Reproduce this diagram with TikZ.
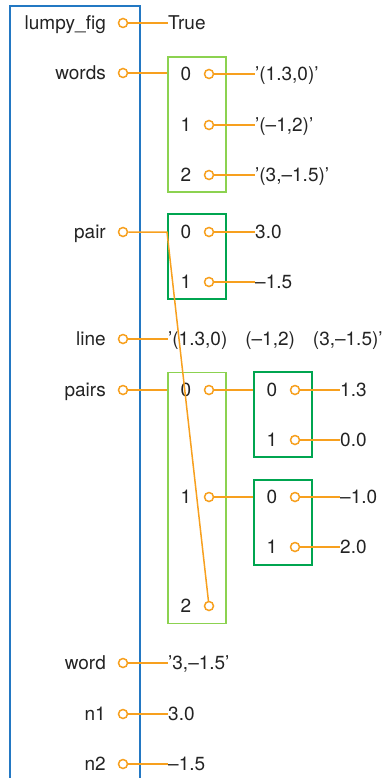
\documentclass[tikz,border=0pt]{standalone}
\usepackage{fontspec}
\setmainfont{TeX Gyre Heros}
\definecolor{refblue}{RGB}{35,120,195}
\definecolor{reforange}{RGB}{247,160,30}
\definecolor{listgreen}{RGB}{140,210,80}
\definecolor{tuplegreen}{RGB}{0,165,80}
\definecolor{reftext}{RGB}{35,35,35}

\begin{document}
\begin{tikzpicture}[
        x=1pt, y=-1pt,
        txt/.style={inner sep=0pt, text height=13.5pt, text depth=0pt, text=reftext, font=\fontsize{19}{21}\selectfont},
        varname/.style={txt, anchor=east},
        val/.style={txt, anchor=west},
        idx/.style={txt, anchor=center},
        ptr/.style={circle, draw=reforange, fill=white, line width=1.5pt, minimum size=9pt, inner sep=0pt},
        ref/.style={draw=reforange, line width=1.5pt},
        frame/.style={draw=refblue, line width=2pt},
        listbox/.style={rectangle, draw=listgreen, line width=1.6pt, minimum width=58pt, inner sep=0pt},
        tuplebox/.style={rectangle, draw=tuplegreen, line width=1.6pt, minimum width=58pt, inner sep=0pt}
    ]
        \useasboundingbox (0,0) rectangle (385,778);

        % Frame
        \draw[frame] (10,778) -- (10,6) -- (140,6) -- (140,778);

        % Boxes
        \node[listbox, minimum height=135pt] (words_box) at (197,124.5) {};
        \node[tuplebox, minimum height=85pt] (pair_box) at (197,256.5) {};
        \node[listbox, minimum height=251pt] (pairs_box) at (197,498) {};
        \node[tuplebox, minimum height=85pt] (pairs0_box) at (283,414.5) {};
        \node[tuplebox, minimum height=85pt] (pairs1_box) at (283,522.5) {};

        % Variables
        \node[varname] (lumpy_fig) at (106,23) {lumpy\_fig};
        \node[ptr] (lumpy_fig_p) at (123,23) {};
        \node[val] (true_val) at (168,23) {True};
        \draw[ref] (lumpy_fig_p) -- (true_val);

        \node[varname] (words) at (106,73) {words};
        \node[ptr] (words_p) at (123,73) {};
        \coordinate (words_end) at (167,73);
        \draw[ref] (words_p) -- (words_end);

        \node[varname] (pair) at (106,232) {pair};
        \node[ptr] (pair_p) at (123,232) {};
        \coordinate (pair_end) at (167,232);

        \node[varname] (line) at (106,339) {line};
        \node[ptr] (line_p) at (123,339) {};
        \node[val] (line_val) at (168,339) {’(1.3,0)\hspace{18pt}(–1,2)\hspace{18pt}(3,–1.5)’};
        \draw[ref] (line_p) -- (line_val);

        \node[varname] (pairs) at (106,390) {pairs};
        \node[ptr] (pairs_p) at (123,390) {};
        \coordinate (pairs_end) at (167,390);
        \draw[ref] (pairs_p) -- (pairs_end);

        \node[varname] (word) at (106,663) {word};
        \node[ptr] (word_p) at (123,663) {};
        \node[val] (word_val) at (168,663) {’3,–1.5’};
        \draw[ref] (word_p) -- (word_val);

        \node[varname] (n1) at (106,714) {n1};
        \node[ptr] (n1_p) at (123,714) {};
        \node[val] (n1_val) at (168,714) {3.0};
        \draw[ref] (n1_p) -- (n1_val);

        \node[varname] (n2) at (106,764) {n2};
        \node[ptr] (n2_p) at (123,764) {};
        \node[val] (n2_val) at (168,764) {–1.5};
        \draw[ref] (n2_p) -- (n2_val);

        % words items
        \node[idx] (words0) at (186,74) {0};
        \node[ptr] (words0_p) at (209,74) {};
        \node[val] (words0_val) at (255,74) {’(1.3,0)’};
        \draw[ref] (words0_p) -- (words0_val);
        \node[idx] (words1) at (186,125) {1};
        \node[ptr] (words1_p) at (209,125) {};
        \node[val] (words1_val) at (255,125) {’(–1,2)’};
        \draw[ref] (words1_p) -- (words1_val);
        \node[idx] (words2) at (186,175) {2};
        \node[ptr] (words2_p) at (209,175) {};
        \node[val] (words2_val) at (255,175) {’(3,–1.5)’};
        \draw[ref] (words2_p) -- (words2_val);

        % pair items
        \node[idx] (pair0) at (186,232) {0};
        \node[ptr] (pair0_p) at (209,232) {};
        \node[val] (pair0_val) at (255,232) {3.0};
        \draw[ref] (pair0_p) -- (pair0_val);
        \node[idx] (pair1) at (186,282) {1};
        \node[ptr] (pair1_p) at (209,282) {};
        \node[val] (pair1_val) at (255,282) {–1.5};
        \draw[ref] (pair1_p) -- (pair1_val);

        % pairs items
        \node[idx] (pairs0) at (186,390) {0};
        \node[ptr] (pairs0_p) at (209,390) {};
        \draw[ref] (pairs0_p) -- (pairs0_box.west |- pairs0_p);
        \node[idx] (pairs1) at (186,497) {1};
        \node[ptr] (pairs1_p) at (209,497) {};
        \draw[ref] (pairs1_p) -- (pairs1_box.west |- pairs1_p);
        \node[idx] (pairs2) at (186,606) {2};
        \node[ptr] (pairs2_p) at (209,606) {};

        % inner tuples
        \node[idx] (pairs00) at (272,390) {0};
        \node[ptr] (pairs00_p) at (295,390) {};
        \node[val] (pairs00_val) at (340,390) {1.3};
        \draw[ref] (pairs00_p) -- (pairs00_val);
        \node[idx] (pairs01) at (272,440) {1};
        \node[ptr] (pairs01_p) at (295,440) {};
        \node[val] (pairs01_val) at (340,440) {0.0};
        \draw[ref] (pairs01_p) -- (pairs01_val);
        \node[idx] (pairs10) at (272,497) {0};
        \node[ptr] (pairs10_p) at (295,497) {};
        \node[val] (pairs10_val) at (340,497) {–1.0};
        \draw[ref] (pairs10_p) -- (pairs10_val);
        \node[idx] (pairs11) at (272,547) {1};
        \node[ptr] (pairs11_p) at (295,547) {};
        \node[val] (pairs11_val) at (340,547) {2.0};
        \draw[ref] (pairs11_p) -- (pairs11_val);

        % pair refers to pairs[2]
        \draw[ref] (pair_p) -- (pair_end) -- (pairs2_p);

    \end{tikzpicture}
\end{document}
